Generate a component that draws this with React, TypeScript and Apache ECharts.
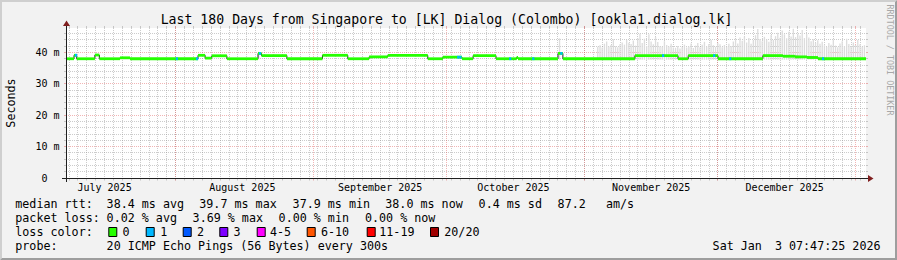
import React, { useEffect, useRef } from 'react';
import * as echarts from 'echarts';

// ---------- texts ----------
const TITLE = 'Last 180 Days from Singapore to [LK] Dialog (Colombo) [ookla1.dialog.lk]';
const Y_TITLE = 'Seconds';
const WATERMARK = 'RRDTOOL / TOBI OETIKER';

// ---------- time axis ----------
const START_MS = Date.UTC(2025, 6, 7, 7, 47, 25); // Jul 7 2025 07:47:25
const SPAN_DAYS = 180;
const DAY_MS = 86400000;
const MONTH_LABELS = ['July 2025', 'August 2025', 'September 2025', 'October 2025', 'November 2025', 'December 2025'];
const MONTH_LABEL_DATES = ['2025-07-16', '2025-08-16', '2025-09-16', '2025-10-16', '2025-11-16', '2025-12-16'];
const MONTH_STARTS = ['2025-08-01', '2025-09-01', '2025-10-01', '2025-11-01', '2025-12-01', '2026-01-01'];
const MINOR_GRID_FIRST = '2025-07-08';
const MINOR_GRID_STEP_DAYS = 2;

// ---------- value axis ----------
const Y_MAX = 47.8;
const Y_MAJOR = [10, 20, 30, 40];
const Y_MINOR_STEP = 2;

// ---------- median rtt (ms), step segments: start (days since start) & value ----------
const MEDIAN_START_DAY = [0, 1.8, 2.4, 6.5, 7.5, 12.15, 14.4, 29.7, 31.3, 32.8, 36.2, 43.2, 44.0, 49.7, 57.7, 63.4, 68.2, 72.4, 81.4, 84.8, 89.1, 91.6, 96.75, 101.4, 101.7, 110.7, 111.8, 128.0, 137.7, 140.0, 146.7, 156.8, 161.3, 164.0, 166.7, 169.2];
const MEDIAN_MS = [38.0, 39.1, 38.0, 39.2, 38.0, 38.3, 38.0, 39.1, 38.2, 38.95, 38.0, 39.7, 39.0, 38.0, 39.1, 38.0, 38.6, 39.05, 38.0, 38.5, 38.0, 39.0, 38.0, 38.4, 38.0, 39.7, 38.0, 39.0, 38.0, 39.0, 38.0, 39.0, 38.8, 38.6, 38.4, 38.0];

// ---------- packet loss events (days since start, lost pings of 20) ----------
const LOSS_DAY = [2.0, 24.7, 29.25, 43.4, 88.0, 88.5, 99.7, 104.9, 111.2, 134.1, 145.6, 149.2, 170.1];
const LOSS_COUNT = [1, 1, 1, 1, 1, 1, 1, 1, 1, 1, 1, 1, 1];
const LOSS_BIN_DAYS = 0.5;

// ---------- smoke (max ping, ms), 12h bins ----------
const SMOKE_FIRST_DAY = 119.5;
const SMOKE_BIN_DAYS = 0.5;
const SMOKE_MIN_MS = 37.7;
const SMOKE_TOP_MS = [
  41.8, 42.3, 41.6, 42.8, 43.5, 41.9, 42.4, 44.2, 42.0, 41.7, 42.6,
  43.2, 42.5, 44.0, 43.1, 42.7, 43.8, 42.2, 44.5, 46.0,
  43.0, 44.4, 42.1, 45.8, 43.5, 42.6, 44.9, 43.3, 42.0, 41.8, 43.6, 42.4, 41.9, 42.8, 41.6,
  41.5, 42.1, 41.3, 41.8, 42.5, 41.6, 41.9, 42.9, 41.4, 42.2, 43.0, 41.7,
  42.5, 43.4, 41.9, 42.7, 44.0, 42.3, 41.8, 43.1, 42.6, 41.7, 42.4, 41.9, 42.8, 42.1,
  43.5, 44.2, 42.9, 44.8, 43.7, 45.1, 43.2, 44.6, 42.8, 43.9, 45.5, 47.5, 44.3, 43.6, 45.0, 44.1, 43.4, 45.6, 44.0,
  45.2, 46.3, 44.7, 47.0, 45.8, 44.5, 46.6, 45.1, 47.6, 44.9, 46.0, 45.4, 47.2, 44.6, 45.9, 44.8,
  43.6, 44.2, 43.1, 43.9, 42.8, 43.4,
  42.3, 41.8, 43.0, 42.5, 44.1, 42.2, 41.7, 42.9, 43.6, 42.0, 44.4, 42.7, 41.9, 43.2, 42.4, 44.0, 42.6, 41.8, 42.3,
];
const EXTRA_SMOKE_DAY = [43.2, 110.9];
const EXTRA_SMOKE_TOP_MS = [40.2, 44.5];

// ---------- legend ----------
const LOSS_COLORS = ['#26ff00', '#00b8ff', '#0059ff', '#7e00ff', '#ff00ff', '#ff5500', '#ff0000', '#a00000'];
const LOSS_LABELS = ['0', '1', '2', '3', '4-5', '6-10', '11-19', '20/20'];
const RTT_STATS = ['38.4 ms avg', '39.7 ms max', '37.9 ms min', '38.0 ms now', '0.4 ms sd', '87.2', 'am/s'];
const LOSS_STATS = ['0.02 % avg', '3.69 % max', '0.00 % min', '0.00 % now'];
const PROBE_TEXT = '20 ICMP Echo Pings (56 Bytes) every 300s';
const STAMP_DAY = 'Sat Jan';
const STAMP_TIME = '3 07:47:25 2026';

// ---------- layout / style ----------
const W = 897;
const H = 260;
const PLOT_L = 66;
const PLOT_T = 28;
const PLOT_W = 800;
const PLOT_H = 150;
const MONO = '"DejaVu Sans Mono", monospace';
const BACK = '#F2F2F2';
const SHADE_A = '#CFCFCF';
const SHADE_B = '#9E9E9E';
const GRID_C = 'rgba(143,143,143,0.45)';
const MGRID_C = 'rgba(222,79,79,0.42)';
const AXIS_C = '#1F1F1F';
const ARROW_C = '#801F1F';
const SMOKE_C = '#dcdcdc';

const dayOf = (iso: string) => (Date.parse(iso + 'T00:00:00Z') - START_MS) / DAY_MS;

function buildOption() {
  // grid lines: [kind, value]; kind 0 = minor vertical, 1 = major vertical, 2 = minor horizontal, 3 = major horizontal
  const gridData: number[][] = [];
  for (let d = dayOf(MINOR_GRID_FIRST); d < SPAN_DAYS; d += MINOR_GRID_STEP_DAYS) gridData.push([0, d]);
  for (let v = Y_MINOR_STEP; v < Y_MAX; v += Y_MINOR_STEP) if (Y_MAJOR.indexOf(v) < 0) gridData.push([2, v]);
  MONTH_STARTS.forEach((m) => gridData.push([1, dayOf(m)]));
  Y_MAJOR.forEach((v) => gridData.push([3, v]));

  const segEnd = (i: number) => (i + 1 < MEDIAN_START_DAY.length ? MEDIAN_START_DAY[i + 1] : SPAN_DAYS);
  const medianAt = (d: number) => {
    let v = MEDIAN_MS[0];
    for (let i = 0; i < MEDIAN_START_DAY.length; i++) if (MEDIAN_START_DAY[i] <= d) v = MEDIAN_MS[i];
    return v;
  };

  const bandData: number[][] = MEDIAN_START_DAY.map((d, i) => [d, segEnd(i), MEDIAN_MS[i], 0]);
  LOSS_DAY.forEach((d, i) => bandData.push([d, d + LOSS_BIN_DAYS, medianAt(d), LOSS_COUNT[i]]));

  const lineData: number[][] = MEDIAN_START_DAY.map((d, i) => [d, MEDIAN_MS[i]]);
  lineData.push([SPAN_DAYS, MEDIAN_MS[MEDIAN_MS.length - 1]]);

  const smokeData: number[][] = SMOKE_TOP_MS.map((t, i) => [SMOKE_FIRST_DAY + i * SMOKE_BIN_DAYS, SMOKE_FIRST_DAY + (i + 1) * SMOKE_BIN_DAYS, SMOKE_MIN_MS, t]);
  EXTRA_SMOKE_DAY.forEach((d, i) => smokeData.push([d, d + SMOKE_BIN_DAYS, SMOKE_MIN_MS, EXTRA_SMOKE_TOP_MS[i]]));

  const monthData = MONTH_LABEL_DATES.map((m, i) => [dayOf(m), i]);

  const lossColor = (n: number) => {
    if (n <= 0) return LOSS_COLORS[0];
    if (n === 1) return LOSS_COLORS[1];
    if (n === 2) return LOSS_COLORS[2];
    if (n === 3) return LOSS_COLORS[3];
    if (n <= 5) return LOSS_COLORS[4];
    if (n <= 10) return LOSS_COLORS[5];
    if (n <= 19) return LOSS_COLORS[6];
    return LOSS_COLORS[7];
  };

  const txt = (text: string, x: number, y: number, size: number, extra: any = {}) => ({
    type: 'text',
    x,
    y,
    z: 100,
    silent: true,
    style: {
      text,
      fill: '#000',
      fontFamily: MONO,
      fontSize: size,
      align: 'left',
      verticalAlign: 'middle',
      textAlign: 'left',
      textVerticalAlign: 'middle',
      ...extra,
    },
  });

  const LEG = 11.7;
  const ROW1 = 204.3;
  const ROW2 = 218.3;
  const ROW3 = 232.3;
  const ROW4 = 246.3;
  const rttX = [107.3, 200, 293.3, 386, 479.3, 558.3, 606.7];
  const lossX = [107.3, 193.3, 279.3, 365.7];
  const boxX = [108.3, 145.7, 182.7, 219.3, 256.7, 306.7, 366.7, 430];
  const labX = [123.3, 161, 197.7, 234.3, 270.7, 321.7, 380, 445];

  const graphic: any[] = [
    // 3d frame
    { type: 'polygon', z: 100, silent: true, shape: { points: [[0, H], [2, H - 2], [2, 2], [W - 2, 2], [W, 0], [0, 0]] }, style: { fill: SHADE_A } },
    { type: 'polygon', z: 100, silent: true, shape: { points: [[2, H - 2], [W - 2, H - 2], [W - 2, 2], [W, 0], [W, H], [0, H]] }, style: { fill: SHADE_B } },
    // axes
    { type: 'line', z: 100, silent: true, shape: { x1: PLOT_L - 4, y1: PLOT_T + PLOT_H + 0.5, x2: PLOT_L + PLOT_W + 4, y2: PLOT_T + PLOT_H + 0.5 }, style: { stroke: AXIS_C, lineWidth: 1 } },
    { type: 'line', z: 100, silent: true, shape: { x1: PLOT_L + 0.5, y1: PLOT_T + PLOT_H + 4, x2: PLOT_L + 0.5, y2: PLOT_T - 4 }, style: { stroke: AXIS_C, lineWidth: 1 } },
    { type: 'polygon', z: 100, silent: true, shape: { points: [[PLOT_L + PLOT_W + 2, PLOT_T + PLOT_H - 3], [PLOT_L + PLOT_W + 2, PLOT_T + PLOT_H + 4], [PLOT_L + PLOT_W + 7.5, PLOT_T + PLOT_H + 0.5]] }, style: { fill: ARROW_C } },
    { type: 'polygon', z: 100, silent: true, shape: { points: [[PLOT_L - 3, PLOT_T - 2], [PLOT_L + 4, PLOT_T - 2], [PLOT_L + 0.5, PLOT_T - 7.5]] }, style: { fill: ARROW_C } },
    // title & side texts
    txt(TITLE, 446.5, 19, 13.2, { align: 'center', textAlign: 'center' }),
    { ...txt(Y_TITLE, 11, 103, LEG, { align: 'center', textAlign: 'center' }), rotation: Math.PI / 2 },
    { ...txt(WATERMARK, 889.5, 60, 8.4, { align: 'center', textAlign: 'center', fill: '#a8a8a8' }), rotation: -Math.PI / 2 },
    // legend rows
    txt('median rtt:', 15.3, ROW1, LEG),
    ...RTT_STATS.map((s, i) => txt(s, rttX[i] - 0.7, ROW1, LEG)),
    txt('packet loss:', 15.3, ROW2, LEG),
    ...LOSS_STATS.map((s, i) => txt(s, lossX[i] - 0.7, ROW2, LEG)),
    txt('loss color:', 15.3, ROW3, LEG),
    ...LOSS_LABELS.map((s, i) => txt(s, labX[i] - 0.7, ROW3, LEG)),
    ...LOSS_COLORS.map((c, i) => ({ type: 'rect', z: 100, silent: true, shape: { x: boxX[i] + 0.5, y: 227.5, width: 8, height: 9 }, style: { fill: c, stroke: '#000', lineWidth: 1 } })),
    txt('probe:', 15.3, ROW4, LEG),
    txt(PROBE_TEXT, 107.3 - 0.7, ROW4, LEG),
    txt(STAMP_DAY, 713.3 - 0.7, ROW4, LEG),
    txt(STAMP_TIME, 880.5, ROW4, LEG, { align: 'right', textAlign: 'right' }),
  ];

  return {
    animation: false,
    backgroundColor: BACK,
    grid: { left: PLOT_L, top: PLOT_T, width: PLOT_W, height: PLOT_H, show: true, backgroundColor: '#FFFFFF', borderWidth: 0, containLabel: false, outerBoundsMode: 'none' },
    xAxis: { type: 'value', min: 0, max: SPAN_DAYS, show: false },
    yAxis: {
      type: 'value',
      min: 0,
      max: Y_MAX,
      interval: 10,
      axisLine: { show: false },
      axisTick: { show: false },
      splitLine: { show: false },
      axisLabel: {
        show: true,
        showMaxLabel: false,
        margin: 6.5,
        color: '#000',
        fontFamily: MONO,
        fontSize: 10,
        formatter: (v: number) => (v === 0 ? '{z|0}' : v + ' m'),
        rich: { z: { fontFamily: MONO, fontSize: 10, color: '#000', padding: [0, 12, 0, 0] } },
      },
    },
    series: [
      {
        type: 'custom',
        name: 'grid',
        silent: true,
        z: 1,
        clip: false,
        data: gridData,
        renderItem: (params: any, api: any) => {
          const kind = api.value(0);
          const v = api.value(1);
          const color = kind === 1 || kind === 3 ? MGRID_C : GRID_C;
          if (kind < 2) {
            const b = api.coord([v, 0]);
            const t = api.coord([v, Y_MAX]);
            const x = Math.floor(b[0]) + 0.5;
            return {
              type: 'group',
              children: [
                { type: 'line', shape: { x1: x, y1: t[1], x2: x, y2: b[1] }, style: { stroke: color, lineWidth: 1, lineDash: [1, 1] } },
                { type: 'line', shape: { x1: x, y1: b[1], x2: x, y2: b[1] + 2.5 }, style: { stroke: color, lineWidth: 1 } },
                { type: 'line', shape: { x1: x, y1: t[1] - 2, x2: x, y2: t[1] }, style: { stroke: color, lineWidth: 1 } },
              ],
            };
          }
          const l = api.coord([0, v]);
          const r = api.coord([SPAN_DAYS, v]);
          const y = Math.floor(l[1]) + 0.5;
          return {
            type: 'group',
            children: [
              { type: 'line', shape: { x1: l[0], y1: y, x2: r[0], y2: y }, style: { stroke: color, lineWidth: 1, lineDash: [1, 1] } },
              { type: 'line', shape: { x1: l[0] - 2, y1: y, x2: l[0], y2: y }, style: { stroke: color, lineWidth: 1 } },
              { type: 'line', shape: { x1: r[0], y1: y, x2: r[0] + 2, y2: y }, style: { stroke: color, lineWidth: 1 } },
            ],
          };
        },
      },
      {
        type: 'custom',
        name: 'smoke',
        silent: true,
        z: 2,
        data: smokeData,
        renderItem: (params: any, api: any) => {
          const a = api.coord([api.value(0), api.value(3)]);
          const b = api.coord([api.value(1), api.value(2)]);
          return { type: 'rect', shape: { x: a[0], y: a[1], width: Math.max(1, b[0] - a[0] - 0.9), height: b[1] - a[1] }, style: { fill: SMOKE_C } };
        },
      },
      {
        type: 'line',
        name: 'median',
        silent: true,
        z: 3,
        step: 'end',
        showSymbol: false,
        symbol: 'none',
        data: lineData,
        lineStyle: { color: '#202020', width: 1 },
      },
      {
        type: 'custom',
        name: 'loss band',
        silent: true,
        z: 4,
        data: bandData,
        renderItem: (params: any, api: any) => {
          const a = api.coord([api.value(0), api.value(2)]);
          const b = api.coord([api.value(1), api.value(2)]);
          return { type: 'rect', shape: { x: a[0], y: a[1] - 1.4, width: b[0] - a[0], height: 2.8 }, style: { fill: lossColor(api.value(3)) } };
        },
      },
      {
        type: 'custom',
        name: 'months',
        silent: true,
        z: 5,
        clip: false,
        data: monthData,
        renderItem: (params: any, api: any) => {
          const p = api.coord([api.value(0), 0]);
          return {
            type: 'text',
            x: p[0],
            y: 187.7,
            style: { text: MONTH_LABELS[api.value(1)], fill: '#000', fontFamily: MONO, fontSize: 10, align: 'center', verticalAlign: 'middle', textAlign: 'center', textVerticalAlign: 'middle' },
          };
        },
      },
    ],
    graphic,
  };
}

export default function App() {
  const ref = useRef<HTMLDivElement>(null);
  useEffect(() => {
    if (!ref.current) return;
    const chart = echarts.init(ref.current, undefined, { renderer: 'svg' });
    chart.setOption(buildOption() as any);
    return () => chart.dispose();
  }, []);
  return <div ref={ref} style={{ position: 'fixed', left: 0, top: 0, width: W, height: H }} />;
}
